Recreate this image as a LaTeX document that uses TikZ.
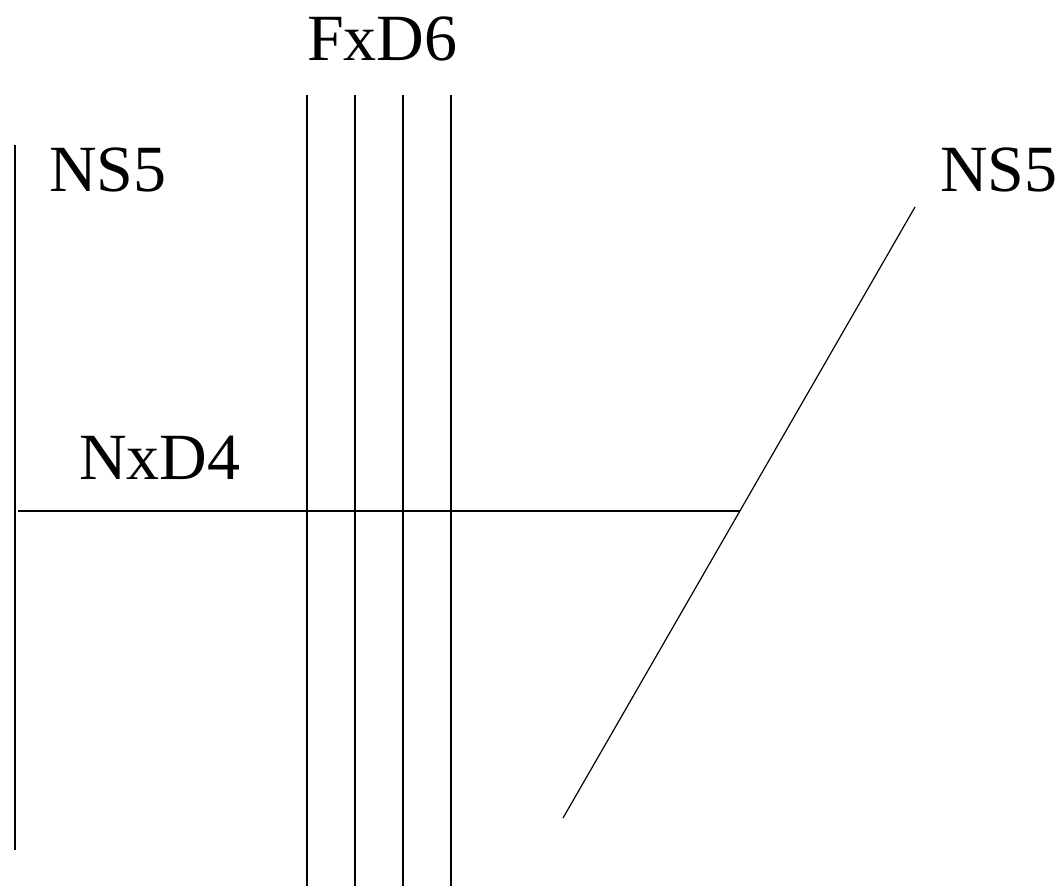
\documentclass[tikz,border=0pt]{standalone}
\usepackage{fontspec}
\setmainfont{Liberation Serif}
\begin{document}
\begin{tikzpicture}[x=1pt,y=-1pt,
  lbl/.style={anchor=base west,inner sep=0pt,font=\fontsize{66}{79}\selectfont},
  brane/.style={line width=1.2pt,black},
  thick brane/.style={line width=2pt,black}]
\useasboundingbox (0,0) rectangle (1062,889);
% labels
\node[lbl] (nsL) at (49,191) {NS5};
\node[lbl] (nsR) at (940,191) {NS5};
\node[lbl] (fx) at (307,60) {FxD6};
\node[lbl] (nx) at (79,479) {NxD4};
% left NS5
\coordinate (l1) at (15,145);
\coordinate (l2) at (15,850);
\draw[brane] (l1) -- (l2);
% D6 branes
\foreach \x [count=\i] in {307,355,403,451}{
  \coordinate (d\i t) at (\x,95);
  \coordinate (d\i b) at (\x,886);
  \draw[brane] (d\i t) -- (d\i b);
}
% right NS5 (tilted)
\coordinate (r1) at (915,207);
\coordinate (r2) at (563,818);
\draw[brane] (r1) -- (r2);
% D4
\coordinate (h1) at (18,511);
\coordinate (h2) at (740,511);
\draw[thick brane] (h1) -- (h2);
\end{tikzpicture}
\end{document}
